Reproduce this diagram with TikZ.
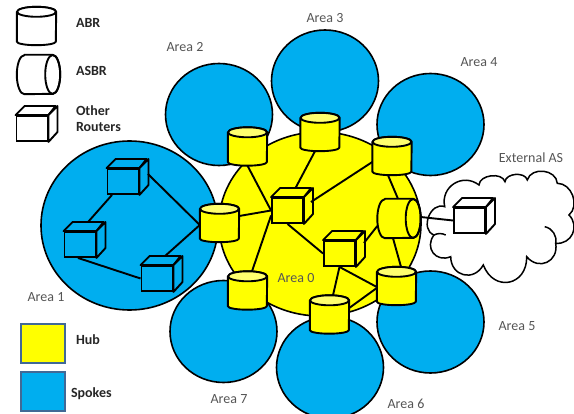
\documentclass[tikz,border=0pt]{standalone}
\usepackage{fontspec}
\setmainfont{Carlito}
\usetikzlibrary{shapes.geometric}
\definecolor{hubyellow}{RGB}{255,255,0}
\definecolor{hubtop}{RGB}{255,255,110}
\definecolor{spokeblue}{RGB}{0,174,239}
\definecolor{keyborder}{RGB}{65,105,150}
\definecolor{areagray}{RGB}{85,85,85}
\tikzset{
  area/.style={ellipse,draw,line width=1.6pt,fill=spokeblue,minimum width=107pt,minimum height=102pt,inner sep=0pt},
  abrbox/.style={rectangle,minimum width=39pt,minimum height=38pt,inner sep=0pt},
  asbrbox/.style={rectangle,minimum width=43pt,minimum height=39pt,inner sep=0pt},
  routerbox/.style={rectangle,draw,line width=1.9pt,minimum width=31pt,minimum height=25pt,inner sep=0pt,fill=#1},
  link/.style={line width=1.9pt},
  shell/.style={line width=1.9pt,line join=round},
  cloudline/.style={line width=1.5pt},
  keybox/.style={rectangle,draw=keyborder,line width=1.4pt,minimum width=44pt,minimum height=39pt,inner sep=0pt},
  arealabel/.style={text=areagray,font=\fontsize{14}{16}\selectfont},
  keylabel/.style={text=black!85,font=\fontsize{14}{16.5}\selectfont\bfseries}
}
\newcommand{\router}[3]{
  \node[routerbox=#3] (#1) at (#2) {};
  \draw[shell,fill=#3] (#1.north west) -- ++(9pt,9pt) -- ++(31pt,0pt) -- (#1.north east) -- cycle;
  \draw[shell,fill=#3] (#1.north east) -- ++(9pt,9pt) -- ++(0pt,-26pt) -- (#1.south east) -- cycle;
}
\newcommand{\abrnode}[4]{
  \node[abrbox] (#1) at (#2) {};
  \draw[shell,fill=#3] ([yshift=-5pt]#1.north west) -- ([yshift=3.5pt]#1.south west) arc[start angle=180,end angle=360,x radius=19.5pt,y radius=3.5pt] -- ([yshift=-5pt]#1.north east) arc[start angle=0,end angle=180,x radius=19.5pt,y radius=5pt] -- cycle;
  \draw[shell,fill=#4] ([yshift=-5pt]#1.north) ellipse (19.5pt and 5pt);
}
\newcommand{\asbrnode}[3]{
  \node[asbrbox] (#1) at (#2) {};
  \draw[shell,fill=#3] ([xshift=7.5pt]#1.north west) -- ([xshift=-7.5pt]#1.north east) arc[start angle=90,end angle=-90,x radius=7.5pt,y radius=19.5pt] -- ([xshift=7.5pt]#1.south west) arc[start angle=270,end angle=90,x radius=7.5pt,y radius=19.5pt] -- cycle;
  \draw[shell] ([xshift=-7.5pt]#1.east) ellipse (7.5pt and 19.5pt);
}
\begin{document}
\begin{tikzpicture}[x=1pt,y=-1pt]
  \useasboundingbox (0,0) rectangle (574,414);
  \clip (0,0) rectangle (574,414);
  % spokes
  \node[area] (areaTwo) at (219,114.5) {};
  \node[area] (areaThree) at (325,81) {};
  \node[area] (areaFour) at (430.5,124.5) {};
  \node[area] (areaFive) at (430.5,322) {};
  \node[area] (areaSix) at (330,367.5) {};
  \node[area] (areaSeven) at (223.5,331.5) {};
  \node[area,minimum width=177pt,minimum height=169pt] (areaOne) at (129.5,225.5) {};
  % hub
  \node[area,fill=hubyellow,minimum width=202pt,minimum height=184pt] (areaZero) at (320,224) {};
  % cloud
  \coordinate (cA) at (444.7,206.7);
  \coordinate (cB) at (434,235);
  \coordinate (cC) at (450.7,256.7);
  \coordinate (cD) at (483.3,265);
  \coordinate (cE) at (526.7,256.7);
  \coordinate (cF) at (555.7,243.3);
  \coordinate (cG) at (569,215);
  \coordinate (cH) at (557.3,183.3);
  \coordinate (cI) at (527.3,180);
  \coordinate (cJ) at (505,181.7);
  \coordinate (cK) at (479,185);
  \draw[cloudline,fill=white] (cA) to[bend left=70,looseness=1.3] (cK) to[bend left=80] (cJ) to[bend left=80] (cI) to[bend left=80,looseness=1.2] (cH) to[bend left=70,looseness=1.1] (cG) to[bend left=70,looseness=1.3] (cF) to[bend left=75,looseness=1.5] (cE) to[bend left=80,looseness=1.7] (cD) to[bend left=75,looseness=1.5] (cC) to[bend left=75,looseness=1.5] (cB) to[bend left=90,looseness=1.3] (cA) -- cycle;
  \coordinate (hookB) at (445.7,235);
  \coordinate (hookF) at (544.7,226.7);
  \draw[cloudline] (cB) to[bend left=25] (hookB);
  \draw[cloudline] (hookF) to[bend left=45] (cF);
  % routers
  \abrnode{abrTwo}{247.5,146.5}{hubyellow}{hubtop}
  \abrnode{abrThree}{320,132}{hubyellow}{hubtop}
  \abrnode{abrFour}{392,156}{hubyellow}{hubtop}
  \abrnode{abrOne}{219.5,223}{hubyellow}{hubtop}
  \abrnode{abrSeven}{247.5,290.5}{hubyellow}{hubtop}
  \abrnode{abrSix}{329.5,314.5}{hubyellow}{hubtop}
  \abrnode{abrFive}{396.5,286}{hubyellow}{hubtop}
  \asbrnode{asbrHub}{399,218.5}{hubyellow}
  \router{rtrTop}{123,181.5}{spokeblue}
  \router{rtrLeft}{80,244.5}{spokeblue}
  \router{rtrLow}{157,278.5}{spokeblue}
  \router{rtrHub}{287.5,210.5}{hubyellow}
  \router{rtrEast}{339.5,253.5}{hubyellow}
  \router{rtrExt}{469.5,220.5}{white}
  % links
  \draw[link] ([xshift=-11pt]rtrTop.south) -- ([xshift=8pt,yshift=9pt]rtrLeft.north);
  \draw[link] ([xshift=8.5pt,yshift=7.5pt]rtrTop.east) -- ([yshift=-2pt]abrOne.west);
  \draw[link] ([xshift=-2pt]rtrLeft.south) -- (rtrLow.west);
  \draw[link] ([xshift=8pt,yshift=9pt]rtrLow.north) -- ([yshift=-2pt]abrOne.west);
  \draw[link] ([yshift=7pt]abrOne.east) -- (rtrHub.west);
  \draw[link] (abrTwo.south) -- (rtrHub.west);
  \draw[link] ([xshift=-5pt]abrThree.south) -- ([xshift=8pt,yshift=9pt]rtrHub.north);
  \draw[link] ([xshift=7pt,yshift=8.5pt]rtrHub.east) -- ([yshift=-6pt]abrFour.west);
  \draw[link] ([xshift=-4pt]abrFour.south) -- ([xshift=-1pt]asbrHub.north);
  \draw[link] ([yshift=-5pt]rtrHub.west) -- ([xshift=4.5pt]abrSeven.north);
  \draw[link] (rtrHub.south) -- (rtrEast.west);
  \draw[link] ([xshift=8pt,yshift=10.5pt]rtrEast.east) -- ([yshift=-7.5pt]asbrHub.west);
  \draw[link] ([xshift=-6pt]asbrHub.south) -- ([xshift=4.5pt]abrFive.north);
  \draw[link] (rtrEast.south) -- ([xshift=3.5pt]abrSix.north);
  \draw[link] (rtrEast.south) -- ([yshift=-1pt]abrFive.west);
  \draw[link] ([yshift=6.5pt]abrSix.east) -- ([yshift=-2pt]abrFive.west);
  \draw[link] ([yshift=1.5pt]asbrHub.east) -- (rtrExt.west);
  % key
  \abrnode{keyAbr}{36.5,26}{white}{white}
  \asbrnode{keyAsbr}{38.5,74.5}{white}
  \router{keyRtr}{32,128.5}{white}
  \node[keybox,fill=hubyellow] (keyHub) at (43,343.5) {};
  \node[keybox,fill=spokeblue] (keySpoke) at (43,391.5) {};
  \node[keylabel,anchor=west] (txtAbr) at (72.5,23) {ABR};
  \node[keylabel,anchor=west] (txtAsbr) at (72.5,71) {ASBR};
  \node[keylabel,anchor=west,align=left] (txtRtr) at (72.5,118.5) {Other\\Routers};
  \node[keylabel,anchor=west] (txtHub) at (72.5,340) {Hub};
  \node[keylabel,anchor=west] (txtSpoke) at (67.5,394) {Spokes};
  % labels
  \node[arealabel] (txtZero) at (296,278) {Area 0};
  \node[arealabel] (txtOne) at (46,297) {Area 1};
  \node[arealabel] (txtTwo) at (185,47) {Area 2};
  \node[arealabel] (txtThree) at (325,18) {Area 3};
  \node[arealabel] (txtFour) at (479,62) {Area 4};
  \node[arealabel] (txtFive) at (517,326) {Area 5};
  \node[arealabel] (txtSix) at (406,404) {Area 6};
  \node[arealabel] (txtSeven) at (229,399) {Area 7};
  \node[arealabel] (txtExt) at (531,158) {External AS};
\end{tikzpicture}
\end{document}
